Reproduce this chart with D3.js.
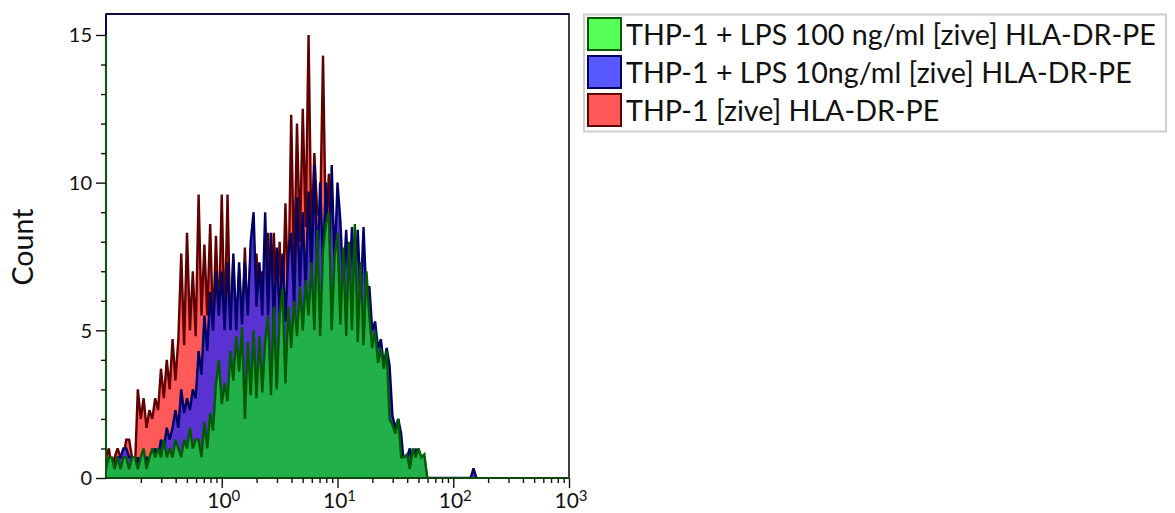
<!DOCTYPE html>
<html>
<head>
  <meta charset="utf-8">
  <title>HLA-DR-PE histogram overlay</title>
  <script src="https://d3js.org/d3.v7.min.js"></script>
  <style>
    body { margin: 0; background: #fff; }
    text { font-family: Lato, "Open Sans", sans-serif; fill: #111; }
  </style>
</head>
<body>
<div id="chart"></div>
<script>
  // Histogram bins: log10 of the first bin and the step between bins.
  const binStart = -1;
  const binStep = 0.025;

  // Counts per bin.
  const redCounts = [
    0.7, 1.0, 0.3, 0.7, 1.0, 0.7, 0.7, 1.3, 1.3, 0.7, 0.3,
    3.0, 2.0, 2.7, 1.7, 2.3, 2.0, 2.7, 2.3,
    3.7, 2.7, 4.0, 3.0, 4.7, 3.3, 4.7,
    7.6, 4.5, 8.3, 5.0, 7.0, 4.8, 9.6, 5.5, 7.9, 5.5,
    8.6, 5.0, 8.2, 5.2, 9.6, 5.0, 9.6, 4.8, 7.4, 4.6,
    7.0, 5.0, 7.8, 4.8, 7.8, 5.5, 7.6, 5.5, 7.0, 5.0,
    8.3, 5.2, 8.3, 5.5, 8.0, 5.4, 9.3, 6.0, 12.3, 7.0,
    12.0, 8.0, 12.5, 8.5, 15.0, 8.0, 11.0, 9.0, 8.8, 14.3,
    8.0, 10.3, 7.5, 8.0, 6.5, 7.0, 6.0, 6.5, 5.5, 5.0,
    5.5, 4.5, 4.0, 4.5, 3.5, 3.0, 3.3, 2.5, 2.7, 2.0,
    2.3, 1.7, 1.3, 1.0, 1.0, 0.7, 0.3, 0.7, 0.3, 0,
    0, 0, 0, 0, 0, 0
  ];
  const blueCounts = [
    0.7, 0.3, 0.7, 0.3, 0.7, 0.7, 1.0, 1.0, 0.7, 0.7, 0.3,
    0.7, 0.3, 0.7, 0.7, 0.3, 0.7, 1.0, 0.7,
    1.3, 1.0, 1.7, 1.3, 1.7,
    2.3, 1.7, 3.0, 2.2, 2.7, 2.3, 3.0, 2.7,
    4.3, 3.5, 5.5, 4.3, 6.3, 5.0, 7.0, 5.5, 7.0, 5.0,
    7.3, 5.0, 7.6, 5.0, 7.3, 5.2, 7.3, 5.5, 8.0, 9.0,
    5.8, 7.3, 5.5, 9.0, 5.5, 8.3, 5.2, 7.8, 5.5, 7.6,
    5.3, 7.5, 8.3, 5.8, 9.5, 6.5, 9.0, 6.3, 9.7, 6.8,
    10.6, 7.0, 10.0, 7.2, 10.0, 7.0, 10.6, 7.2, 10.0, 8.7,
    6.5, 8.4, 6.3, 8.5, 6.5, 8.4, 6.0, 8.5, 6.0, 6.5,
    5.0, 5.3, 4.4, 4.7, 3.8, 4.4, 3.8, 2.1, 1.7, 2.0,
    1.5, 0.4, 0.7, 1.0, 0.3, 1.0, 0.3, 0.7, 0.7, 0,
    0, 0, 0, 0, 0, 0, 0, 0, 0, 0, 0, 0, 0, 0, 0,
    0.33, 0
  ];
  const greenCounts = [
    0.3, 0.7, 0.7, 0.3, 0.7, 0.3, 0.7, 0.7, 0.3, 0.7, 0.7,
    0.3, 0.7, 1.0, 0.3, 0.7, 1.0, 0.7, 1.0,
    0.7, 1.3, 0.7, 1.0, 0.7, 1.3, 1.0,
    0.7, 1.3, 1.0, 1.7, 1.0, 1.3,
    1.3, 0.7, 1.9, 1.0,
    2.2, 1.6, 3.2, 4.0, 2.5, 3.2, 2.6, 4.3, 3.3, 4.8,
    3.6, 5.1, 2.0, 4.6, 2.8, 5.0, 2.7, 4.8, 2.9, 4.6,
    5.5, 2.8, 5.8, 3.0, 5.5, 6.4, 3.2, 5.8, 4.4, 6.0,
    4.8, 6.5, 5.0, 6.7, 5.5, 7.3, 5.0, 8.4, 4.8, 7.7,
    8.6, 9.0, 5.0, 7.5, 8.3, 5.2, 7.8, 4.8, 8.0, 5.0,
    8.6, 4.6, 7.3, 4.5, 7.0, 5.5, 4.4, 5.0, 3.9, 4.4,
    3.7, 4.3, 2.0, 1.8, 1.5, 2.0, 0.7, 0.7, 0.8, 0.3,
    1.0, 0.7, 1.0, 0.7, 0.8, 0
  ];

  // Legend order (top to bottom); drawn in reverse so green ends on top.
  const seriesNames = [
    "THP-1 + LPS 100 ng/ml [zive] HLA-DR-PE",
    "THP-1 + LPS 10ng/ml [zive] HLA-DR-PE",
    "THP-1 [zive] HLA-DR-PE"
  ];
  const seriesCounts = [greenCounts, blueCounts, redCounts];
  const fillColors = ["#22b04a", "#5a32d2", "#ff5a5a"];
  const lineColors = ["#005c00", "#000066", "#600000"];
  const swatchColors = ["#58ff58", "#5858ff", "#ff5858"];

  const yTicks = [0, 5, 10, 15];
  const xDecades = [0, 1, 2, 3];

  const width = 1175, height = 513;
  const plot = {left: 106, right: 569, top: 14, bottom: 478};

  const svg = d3.select("#chart").append("svg")
    .attr("width", width)
    .attr("height", height);

  const x = d3.scaleLog().domain([0.1, 1000]).range([plot.left, plot.right]);
  const y = d3.scaleLinear().domain([0, 15.71]).range([plot.bottom, plot.top]);

  const toPoints = counts => counts.map((c, i) => ({x: Math.pow(10, binStart + i * binStep), c: c}));

  const area = d3.area()
    .x(d => x(d.x))
    .y0(y(0))
    .y1(d => y(d.c));
  const line = d3.line()
    .x(d => x(d.x))
    .y(d => y(d.c));

  const g = svg.append("g");
  g.append("clipPath").attr("id", "clip")
    .append("rect")
    .attr("x", plot.left).attr("y", plot.top)
    .attr("width", plot.right - plot.left).attr("height", plot.bottom - plot.top);

  const layers = g.append("g").attr("clip-path", "url(#clip)");
  // red first, green last
  for (let k = seriesCounts.length - 1; k >= 0; k--) {
    const pts = toPoints(seriesCounts[k]);
    layers.append("path")
      .attr("d", area(pts))
      .attr("fill", fillColors[k]);
    layers.append("path")
      .attr("d", line(pts))
      .attr("fill", "none")
      .attr("stroke", lineColors[k])
      .attr("stroke-width", 2.4)
      .attr("stroke-linejoin", "miter")
      .attr("stroke-miterlimit", 3);
  }

  // Frame
  g.append("rect")
    .attr("x", plot.left).attr("y", plot.top)
    .attr("width", plot.right - plot.left).attr("height", plot.bottom - plot.top)
    .attr("fill", "none")
    .attr("stroke", "#111")
    .attr("stroke-width", 1.6);
  g.append("line")
    .attr("x1", plot.left).attr("x2", plot.right)
    .attr("y1", plot.top).attr("y2", plot.top)
    .attr("stroke", "#0a0a40").attr("stroke-width", 1.8);
  g.append("line")
    .attr("x1", plot.left).attr("x2", plot.left)
    .attr("y1", plot.top).attr("y2", y(15))
    .attr("stroke", "#000066").attr("stroke-width", 1.8);
  g.append("line")
    .attr("x1", plot.left).attr("x2", plot.left)
    .attr("y1", y(15)).attr("y2", plot.bottom)
    .attr("stroke", "#006000").attr("stroke-width", 1.8);
  g.append("line")
    .attr("x1", plot.left).attr("x2", plot.right)
    .attr("y1", plot.bottom).attr("y2", plot.bottom)
    .attr("stroke", "#0a4a0a").attr("stroke-width", 1.8);

  // Y axis
  const yAxis = g.append("g").attr("transform", `translate(${plot.left},0)`)
    .call(d3.axisLeft(y).tickValues(d3.range(0, 16)).tickSize(5).tickFormat(""));
  yAxis.select(".domain").remove();
  yAxis.selectAll(".tick line")
    .attr("x2", d => yTicks.includes(d) ? -10 : -5)
    .attr("stroke", "#111").attr("stroke-width", 1.4);
  g.selectAll(".ylab").data(yTicks).enter().append("text")
    .attr("class", "ylab")
    .attr("x", plot.left - 14)
    .attr("y", d => y(d))
    .attr("dy", "0.36em")
    .attr("text-anchor", "end")
    .style("font-size", "20px")
    .text(d => d);

  // X axis: majors at decades, minors 2..9
  const minors = [];
  [-1, 0, 1, 2].forEach(e => { for (let m = 2; m <= 9; m++) minors.push(m * Math.pow(10, e)); });
  const majors = xDecades.map(e => Math.pow(10, e));
  const xAxis = g.append("g").attr("transform", `translate(0,${plot.bottom})`)
    .call(d3.axisBottom(x).tickValues(majors.concat(minors)).tickSize(5).tickFormat(""));
  xAxis.select(".domain").remove();
  xAxis.selectAll(".tick line")
    .attr("y2", d => majors.includes(d) ? 10 : 5)
    .attr("stroke", "#111").attr("stroke-width", 1.4);
  const xl = g.selectAll(".xlab").data(xDecades).enter().append("text")
    .attr("class", "xlab")
    .attr("x", d => x(Math.pow(10, d)) + 2)
    .attr("y", 508)
    .attr("text-anchor", "middle")
    .style("font-size", "21px");
  xl.append("tspan").text("10");
  xl.append("tspan").attr("dy", "-0.5em").style("font-size", "15px").text(d => d);

  // Y title
  const yTitle = svg.append("text")
    .attr("transform", "translate(33,247) rotate(-90)")
    .attr("text-anchor", "middle")
    .style("font-size", "28px")
    .text("Count");
  const tw = yTitle.node().getComputedTextLength();
  yTitle.style("font-size", (28 * 77 / tw) + "px");

  // Legend
  const legend = svg.append("g");
  legend.append("rect")
    .attr("x", 584).attr("y", 14.5)
    .attr("width", 582).attr("height", 117)
    .attr("fill", "#fff")
    .attr("stroke", "#cfcfcf").attr("stroke-width", 2);
  const rows = legend.selectAll(".row").data(seriesNames).enter().append("g")
    .attr("transform", (d, i) => `translate(588,${18 + i * 38})`);
  rows.append("rect")
    .attr("width", 33).attr("height", 32)
    .attr("fill", (d, i) => swatchColors[i])
    .attr("stroke", (d, i) => lineColors[i])
    .attr("stroke-width", 2);
  const labels = rows.append("text")
    .attr("x", 38).attr("y", 26.5)
    .style("font-size", "26px")
    .text(d => d);
  const lw = labels.node().getComputedTextLength();
  labels.style("font-size", (26 * 530 / lw) + "px");
</script>
</body>
</html>
